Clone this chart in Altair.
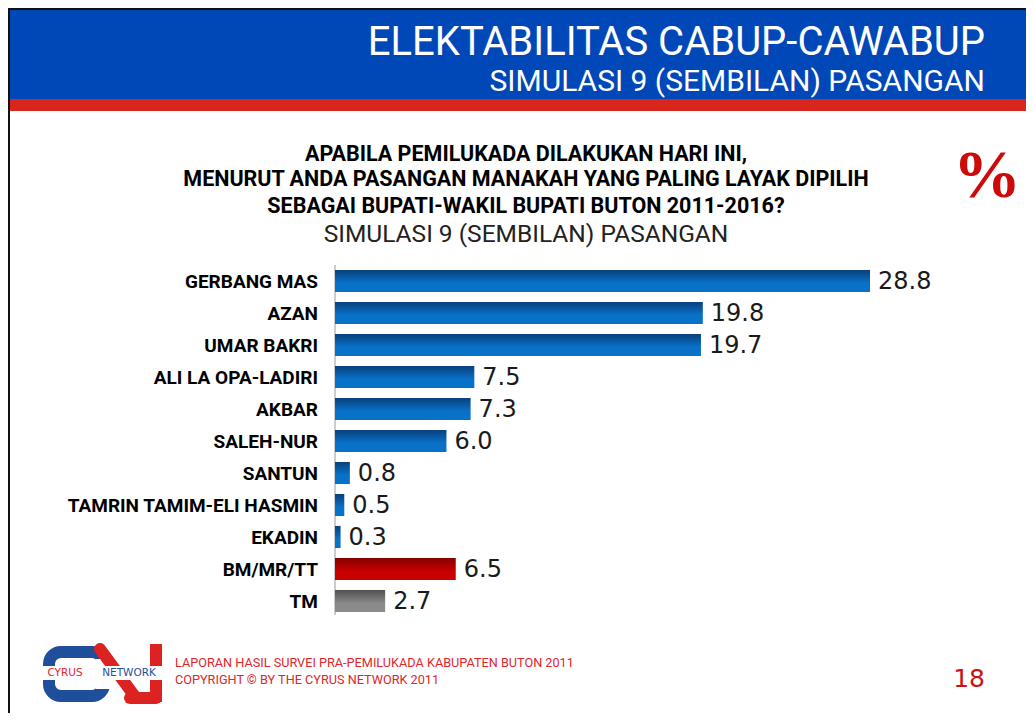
import altair as alt
import pandas as pd

# ---- data ----
categories = ["GERBANG MAS", "AZAN", "UMAR  BAKRI", "ALI LA OPA-LADIRI", "AKBAR",
              "SALEH-NUR", "SANTUN", "TAMRIN TAMIM-ELI HASMIN", "EKADIN",
              "BM/MR/TT", "TM"]
values = [28.8, 19.8, 19.7, 7.5, 7.3, 6.0, 0.8, 0.5, 0.3, 6.5, 2.7]
groups = ["pasangan"] * 9 + ["bmmrtt", "tm"]

header_title = "ELEKTABILITAS CABUP-CAWABUP"
header_sub = "SIMULASI 9 (SEMBILAN) PASANGAN"
question = ["APABILA PEMILUKADA DILAKUKAN HARI INI,",
            "MENURUT ANDA PASANGAN MANAKAH YANG PALING LAYAK DIPILIH",
            "SEBAGAI BUPATI-WAKIL BUPATI BUTON 2011-2016?"]
question_sub = "SIMULASI 9 (SEMBILAN) PASANGAN"
footer = ["LAPORAN HASIL SURVEI PRA-PEMILUKADA KABUPATEN BUTON 2011",
          "COPYRIGHT \u00a9 BY THE CYRUS NETWORK 2011"]
page_no = "18"

df = pd.DataFrame({"cat": categories, "val": values, "grp": groups})

W, H = 1018, 705
NARROW = "Liberation Sans Narrow, Arial Narrow, Roboto, sans-serif"
ROUND = "DejaVu Sans, Verdana, sans-serif"

xs = alt.Scale(domain=[0, 28.8], range=[327, 862])
ys = alt.Scale(domain=categories, range=[257, 609], paddingInner=0.31, paddingOuter=0.155)

one = pd.DataFrame({"a": [0]})
base = alt.Chart(one)


def box(x1, x2, y1, y2, **kw):
    return base.mark_rect(**kw).encode(x=alt.value(x1), x2=alt.value(x2),
                                       y=alt.value(y1), y2=alt.value(y2))


def txt(s, x, y, **kw):
    return base.mark_text(text=s, **kw).encode(x=alt.value(x), y=alt.value(y))


def grad(top, bottom):
    return alt.LinearGradient(gradient="linear", x1=0, x2=0, y1=0, y2=1,
                              stops=[alt.GradientStop(color=top, offset=0),
                                     alt.GradientStop(color=bottom, offset=0.6),
                                     alt.GradientStop(color=bottom, offset=1)])


layers = []
# header
layers.append(box(0, W, 0, 91, color="#0047b8"))
layers.append(box(0, W, 91, 103, color="#d9261c"))
layers.append(box(0, W, 0, 2, color="#111111"))
layers.append(box(0, 2, 0, H, color="#111111"))
layers.append(txt(header_title, 977, 47, align="right", baseline="alphabetic",
                  font=NARROW, fontSize=40, color="white"))
layers.append(txt(header_sub, 977, 83, align="right", baseline="alphabetic",
                  font=NARROW, fontSize=30, color="white"))
# question
for s, yy in zip(question, [153, 178, 205]):
    layers.append(txt(s, 518, yy, align="center", baseline="alphabetic",
                      font=NARROW, fontSize=21.5, fontWeight="bold", color="black"))
layers.append(txt(question_sub, 518, 234, align="center", baseline="alphabetic",
                  font=NARROW, fontSize=24.5, color="#222222"))
# percent sign
layers.append(txt("%", 979, 189, align="center", baseline="alphabetic",
                  font="Liberation Serif, DejaVu Serif, serif", fontSize=68,
                  fontWeight="bold", color="#cc0a0a"))

# axis line
layers.append(base.mark_rule(color="#999999", strokeWidth=1).encode(
    x=alt.value(327), y=alt.value(257), y2=alt.value(607)))

# bars
bars = alt.Chart(df)
for g, top, bot in [("pasangan", "#08407c", "#0872c9"),
                    ("bmmrtt", "#850000", "#c80000"),
                    ("tm", "#505050", "#8a8a8a")]:
    layers.append(bars.transform_filter(alt.datum.grp == g).mark_bar(
        color=grad(top, bot)).encode(
        x=alt.X("val:Q", scale=xs, axis=None),
        y=alt.Y("cat:N", scale=ys, axis=None)))

layers.append(bars.mark_text(align="left", baseline="middle", dx=8, dy=1,
                             font=ROUND, fontSize=24, color="#1a1a1a").encode(
    x=alt.X("val:Q", scale=xs, axis=None),
    y=alt.Y("cat:N", scale=ys, axis=None),
    text=alt.Text("val:Q", format=".1f")))
layers.append(bars.mark_text(align="right", baseline="middle", dy=1,
                             font=NARROW, fontSize=19, fontWeight="bold",
                             color="black").encode(
    x=alt.value(310),
    y=alt.Y("cat:N", scale=ys, axis=None),
    text="cat:N"))

# footer
layers.append(txt(footer[0], 167, 655, align="left", baseline="middle",
                  font=NARROW, fontSize=12.7, color="#e0262b"))
layers.append(txt(footer[1], 167, 672, align="left", baseline="middle",
                  font=NARROW, fontSize=12.7, color="#e0262b"))
layers.append(txt(page_no, 977, 679, align="right", baseline="alphabetic",
                  font=ROUND, fontSize=25, color="#cc1111"))

# logo
layers.append(base.mark_rect(fill="white", stroke="#1f4e9a", strokeWidth=12,
                             cornerRadius=12).encode(
    x=alt.value(41), x2=alt.value(96), y=alt.value(644), y2=alt.value(688)))
layers.append(box(88, 104, 651, 681, color="white"))
layers.append(base.mark_rule(color="#dd2222", strokeWidth=12, strokeCap="round").encode(
    x=alt.value(92), x2=alt.value(128), y=alt.value(641), y2=alt.value(690)))
layers.append(base.mark_rule(color="#dd2222", strokeWidth=12).encode(
    x=alt.value(148), y=alt.value(636), y2=alt.value(694)))
layers.append(base.mark_rule(color="#dd2222", strokeWidth=12, strokeCap="round").encode(
    x=alt.value(122), x2=alt.value(148), y=alt.value(690), y2=alt.value(690)))
layers.append(box(34, 156, 658, 672, color="white"))
layers.append(txt("CYRUS", 57, 665, align="center", baseline="middle",
                  font=ROUND, fontSize=10.5, color="#e0262b"))
layers.append(txt("NETWORK", 121, 665, align="center", baseline="middle",
                  font=ROUND, fontSize=10.5, color="#1f4e9a"))

chart = alt.layer(*layers).properties(
    width=W, height=H, padding=0,
    autosize=alt.AutoSizeParams(type="none")
).configure_view(stroke=None).configure(background="white")

chart.save("out.html", embed_options={"renderer": "svg", "actions": False})
